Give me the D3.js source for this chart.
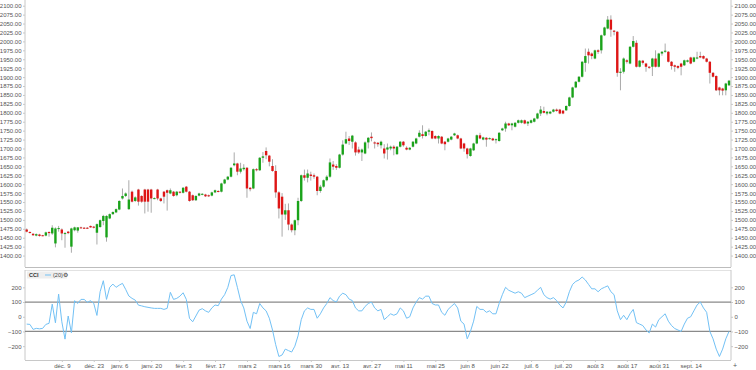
<!DOCTYPE html>
<html><head><meta charset="utf-8">
<script src="https://cdn.jsdelivr.net/npm/d3@7"></script>
<style>body{margin:0;background:#fff}svg{display:block}text{font-family:"Liberation Sans",Arial,sans-serif}</style>
</head><body><svg id="c" width="756" height="370"></svg>
<script>
// ---------- DATA ----------
const dates = ["2019-11-22","2019-11-25","2019-11-26","2019-11-27","2019-11-28","2019-11-29","2019-12-02","2019-12-03","2019-12-04","2019-12-05","2019-12-06","2019-12-09","2019-12-10","2019-12-11","2019-12-12","2019-12-13","2019-12-16","2019-12-17","2019-12-18","2019-12-19","2019-12-20","2019-12-23","2019-12-24","2019-12-26","2019-12-27","2019-12-30","2019-12-31","2020-01-02","2020-01-03","2020-01-06","2020-01-07","2020-01-08","2020-01-09","2020-01-10","2020-01-13","2020-01-14","2020-01-15","2020-01-16","2020-01-17","2020-01-20","2020-01-21","2020-01-22","2020-01-23","2020-01-24","2020-01-27","2020-01-28","2020-01-29","2020-01-30","2020-01-31","2020-02-03","2020-02-04","2020-02-05","2020-02-06","2020-02-07","2020-02-10","2020-02-11","2020-02-12","2020-02-13","2020-02-14","2020-02-17","2020-02-18","2020-02-19","2020-02-20","2020-02-21","2020-02-24","2020-02-25","2020-02-26","2020-02-27","2020-02-28","2020-03-02","2020-03-03","2020-03-04","2020-03-05","2020-03-06","2020-03-09","2020-03-10","2020-03-11","2020-03-12","2020-03-13","2020-03-16","2020-03-17","2020-03-18","2020-03-19","2020-03-20","2020-03-23","2020-03-24","2020-03-25","2020-03-26","2020-03-27","2020-03-30","2020-03-31","2020-04-01","2020-04-02","2020-04-03","2020-04-06","2020-04-07","2020-04-08","2020-04-09","2020-04-13","2020-04-14","2020-04-15","2020-04-16","2020-04-17","2020-04-20","2020-04-21","2020-04-22","2020-04-23","2020-04-24","2020-04-27","2020-04-28","2020-04-29","2020-04-30","2020-05-01","2020-05-04","2020-05-05","2020-05-06","2020-05-07","2020-05-08","2020-05-11","2020-05-12","2020-05-13","2020-05-14","2020-05-15","2020-05-18","2020-05-19","2020-05-20","2020-05-21","2020-05-22","2020-05-25","2020-05-26","2020-05-27","2020-05-28","2020-05-29","2020-06-01","2020-06-02","2020-06-03","2020-06-04","2020-06-05","2020-06-08","2020-06-09","2020-06-10","2020-06-11","2020-06-12","2020-06-15","2020-06-16","2020-06-17","2020-06-18","2020-06-19","2020-06-22","2020-06-23","2020-06-24","2020-06-25","2020-06-26","2020-06-29","2020-06-30","2020-07-01","2020-07-02","2020-07-03","2020-07-06","2020-07-07","2020-07-08","2020-07-09","2020-07-10","2020-07-13","2020-07-14","2020-07-15","2020-07-16","2020-07-17","2020-07-20","2020-07-21","2020-07-22","2020-07-23","2020-07-24","2020-07-27","2020-07-28","2020-07-29","2020-07-30","2020-07-31","2020-08-03","2020-08-04","2020-08-05","2020-08-06","2020-08-07","2020-08-10","2020-08-11","2020-08-12","2020-08-13","2020-08-14","2020-08-17","2020-08-18","2020-08-19","2020-08-20","2020-08-21","2020-08-24","2020-08-25","2020-08-26","2020-08-27","2020-08-28","2020-08-31","2020-09-01","2020-09-02","2020-09-03","2020-09-04","2020-09-07","2020-09-08","2020-09-09","2020-09-10","2020-09-11","2020-09-14","2020-09-15","2020-09-16","2020-09-17","2020-09-18","2020-09-21","2020-09-22","2020-09-23","2020-09-24","2020-09-25","2020-09-28","2020-09-29","2020-09-30"];
const open  = [1473,1466,1461,1456,1459,1457,1456,1466,1462,1434,1475,1473,1462,1467,1425,1471,1470,1479,1478,1478,1483,1481,1464,1480,1497,1451,1504,1516,1521,1529,1560,1567,1530,1579,1553,1585,1567,1585,1585,1585,1560,1585,1560,1579,1583,1574,1579,1569,1579,1576,1593,1579,1569,1555,1568,1571,1571,1569,1568,1577,1581,1579,1602,1613,1621,1653,1658,1635,1642,1646,1590,1588,1642,1639,1674,1693,1680,1651,1637,1577,1565,1515,1527,1487,1471,1499,1553,1625,1618,1627,1625,1621,1581,1593,1611,1621,1655,1651,1646,1683,1714,1728,1719,1717,1697,1689,1686,1717,1733,1717,1716,1709,1700,1697,1700,1705,1684,1705,1719,1702,1697,1705,1714,1733,1740,1735,1747,1749,1735,1728,1733,1719,1719,1725,1737,1737,1728,1714,1700,1679,1695,1714,1737,1725,1730,1728,1728,1725,1721,1751,1756,1770,1765,1761,1772,1772,1779,1770,1772,1775,1784,1798,1805,1798,1798,1803,1809,1809,1806,1807,1819,1843,1871,1887,1901,1940,1971,1966,1952,1975,1975,2017,2036,2061,2030,2027,1912,1915,1947,1938,1985,1996,1929,1946,1938,1929,1929,1952,1929,1966,1971,1971,1943,1933,1931,1938,1933,1943,1955,1943,1952,1959,1959,1952,1943,1912,1903,1871,1868,1863,1877];
const high  = [1476,1468,1463,1462,1461,1458,1467,1468,1485,1479,1483,1476,1466,1469,1478,1481,1480,1481,1480,1480,1484,1483,1490,1501,1514,1513,1518,1524,1532,1555,1588,1577,1611,1582,1566,1587,1569,1587,1587,1587,1563,1587,1562,1581,1585,1588,1581,1581,1580,1592,1595,1581,1571,1569,1576,1575,1573,1571,1579,1585,1583,1604,1615,1623,1648,1689,1660,1660,1656,1648,1592,1644,1645,1676,1690,1703,1682,1670,1653,1580,1575,1545,1546,1490,1501,1562,1627,1641,1641,1635,1630,1623,1598,1613,1625,1672,1665,1656,1685,1723,1747,1735,1738,1720,1705,1700,1720,1732,1745,1720,1718,1722,1712,1714,1708,1709,1707,1721,1721,1706,1704,1721,1730,1751,1765,1749,1756,1751,1737,1737,1735,1721,1730,1735,1744,1739,1730,1716,1702,1702,1716,1739,1744,1733,1732,1731,1730,1728,1746,1758,1775,1772,1772,1774,1781,1781,1781,1777,1781,1786,1800,1819,1817,1805,1805,1811,1812,1811,1808,1821,1845,1873,1889,1903,1945,1980,1980,1969,1977,1978,2019,2041,2071,2073,2032,2029,1925,1955,1950,1987,2015,2003,1948,1948,1940,1931,1954,1975,1968,1973,1994,1973,1945,1935,1933,1940,1949,1949,1957,1957,1971,1971,1961,1954,1945,1914,1905,1873,1870,1884,1892];
const low   = [1465,1462,1455,1454,1453,1454,1454,1453,1458,1423,1467,1443,1422,1460,1408,1468,1464,1476,1475,1475,1478,1476,1431,1478,1485,1439,1502,1514,1519,1527,1557,1564,1528,1549,1550,1540,1548,1518,1523,1520,1558,1555,1550,1546,1526,1572,1565,1566,1574,1574,1577,1551,1553,1553,1566,1569,1564,1564,1566,1575,1577,1577,1600,1611,1619,1650,1625,1630,1638,1562,1580,1586,1636,1637,1660,1670,1650,1635,1562,1504,1453,1500,1471,1465,1457,1485,1550,1610,1605,1610,1615,1569,1576,1590,1608,1618,1640,1640,1644,1680,1712,1710,1700,1680,1685,1665,1684,1700,1720,1700,1705,1700,1672,1669,1695,1681,1682,1703,1705,1695,1695,1703,1712,1731,1728,1733,1737,1726,1726,1714,1712,1695,1717,1723,1735,1726,1698,1691,1672,1677,1693,1712,1726,1723,1705,1725,1721,1714,1719,1749,1747,1763,1751,1759,1770,1770,1768,1763,1770,1773,1782,1791,1798,1793,1796,1801,1803,1796,1796,1805,1817,1841,1869,1885,1899,1915,1938,1950,1950,1965,1966,2015,2034,2013,2017,1901,1863,1910,1938,1936,1983,1927,1927,1935,1915,1923,1903,1927,1927,1960,1968,1941,1921,1915,1922,1905,1931,1941,1936,1941,1950,1953,1950,1941,1882,1899,1861,1849,1849,1849,1875];
const close = [1467,1464,1457,1460,1455,1455,1465,1463,1478,1476,1477,1462,1463,1463,1476,1479,1479,1477,1477,1476,1479,1478,1488,1499,1511,1511,1516,1522,1530,1553,1567,1574,1557,1551,1563,1551,1551,1551,1551,1560,1561,1560,1553,1565,1576,1583,1567,1579,1576,1590,1579,1553,1555,1567,1574,1573,1566,1566,1577,1583,1579,1602,1613,1621,1646,1658,1635,1644,1646,1588,1586,1642,1639,1674,1678,1681,1663,1637,1577,1532,1515,1527,1487,1471,1499,1553,1625,1618,1630,1623,1621,1581,1593,1611,1621,1661,1649,1646,1683,1711,1726,1721,1736,1689,1689,1697,1717,1730,1729,1714,1712,1719,1686,1703,1705,1700,1705,1719,1709,1697,1702,1719,1728,1744,1735,1747,1751,1728,1728,1735,1714,1712,1728,1733,1742,1728,1700,1700,1684,1700,1714,1737,1728,1731,1725,1729,1723,1726,1744,1756,1770,1765,1770,1772,1779,1779,1770,1775,1779,1784,1798,1809,1800,1803,1803,1809,1805,1798,1798,1819,1843,1871,1887,1901,1943,1959,1961,1959,1975,1971,2017,2039,2061,2033,2027,1912,1915,1952,1943,1985,2001,1929,1946,1940,1929,1926,1952,1929,1966,1971,1974,1943,1931,1929,1926,1929,1947,1947,1938,1955,1955,1955,1952,1943,1912,1901,1863,1863,1862,1882,1890];
const cci   = [-50,-52,-86,-79,-82,-79,-52,-45,86,-41,154,-34,-152,5,-109,109,91,118,118,98,109,91,9,170,245,118,200,222,200,215,227,186,141,125,113,79,74,68,64,60,57,57,57,50,57,166,118,125,140,163,118,-11,-34,5,45,55,40,30,60,80,75,120,150,200,280,285,200,110,60,-30,-80,30,20,90,60,40,-10,-90,-190,-270,-260,-220,-230,-240,-200,-130,-20,40,60,50,50,-10,20,60,90,130,110,100,140,160,150,120,110,60,40,40,70,90,100,60,40,50,-20,0,20,10,20,60,40,-10,0,60,100,130,120,140,140,90,80,80,30,10,50,70,90,60,-30,-50,-150,-100,-30,70,50,50,30,40,20,20,90,150,200,180,170,160,170,160,130,140,150,160,180,200,150,130,120,130,110,80,60,100,170,220,240,250,270,250,220,190,190,170,190,200,210,170,150,40,-20,10,-20,20,50,-40,-50,-60,-90,-110,-50,-70,-20,0,20,-30,-60,-80,-90,-100,-50,-10,0,40,80,100,60,30,-100,-150,-220,-270,-220,-150,-100];
const priceTicks = [1400,1425,1450,1475,1500,1525,1550,1575,1600,1625,1650,1675,1700,1725,1750,1775,1800,1825,1850,1875,1900,1925,1950,1975,2000,2025,2050,2075,2100];
const cciTicks = [-200,-100,0,100,200];
const cciLevels = [100,-100];
const xTickDates = ["2019-12-09","2019-12-23","2020-01-06","2020-01-20","2020-02-03","2020-02-17","2020-03-02","2020-03-16","2020-03-30","2020-04-13","2020-04-27","2020-05-11","2020-05-25","2020-06-08","2020-06-22","2020-07-06","2020-07-20","2020-08-03","2020-08-17","2020-08-31","2020-09-14"];
const xTickLabels = ["déc. 9","déc. 23","janv. 6","janv. 20","févr. 3","févr. 17","mars 2","mars 16","mars 30","avr. 13","avr. 27","mai 11","mai 25","juin 8","juin 22","juil. 6","juil. 20","août 3","août 17","août 31","sept. 14"];

// ---------- LAYOUT ----------
const L = 25, R = 731;
const svg = d3.select("#c");
const x = d3.scalePoint().domain(dates).range([26.7, 729]);
const yP = d3.scaleLinear().domain([1368, 2116]).range([267, 0]);
const yC = d3.scaleLinear().domain([-294, 311]).range([360, 271]);
const axisCol = "#c8c8c8", txtCol = "#555";
const fmt = d3.format(".2f");

const g = svg.append("g");
g.append("line").attr("x1",L).attr("x2",L).attr("y1",0).attr("y2",267).attr("stroke",axisCol);
g.append("line").attr("x1",R).attr("x2",R).attr("y1",0).attr("y2",267).attr("stroke",axisCol);
g.append("line").attr("x1",L).attr("x2",R).attr("y1",267.5).attr("y2",267.5).attr("stroke","#bdbdbd");
g.append("line").attr("x1",L).attr("x2",R).attr("y1",270.5).attr("y2",270.5).attr("stroke","#e2e2e2");
g.append("line").attr("x1",L).attr("x2",L).attr("y1",270).attr("y2",360).attr("stroke",axisCol);
g.append("line").attr("x1",R).attr("x2",R).attr("y1",270).attr("y2",360).attr("stroke",axisCol);
g.append("line").attr("x1",L).attr("x2",R).attr("y1",360.5).attr("y2",360.5).attr("stroke",axisCol);

function yAxis(scale, ticks, f, side, xpos){
  const ax = (side==="left"?d3.axisLeft(scale):d3.axisRight(scale)).tickValues(ticks).tickFormat(f).tickSize(2).tickPadding(1.5);
  const a = svg.append("g").attr("transform",`translate(${xpos},0)`).call(ax);
  a.select(".domain").remove();
  a.selectAll("line").attr("stroke",axisCol);
  a.selectAll("text").attr("fill",txtCol).style("font-size","6px");
}
yAxis(yP, priceTicks, fmt, "left", L);
yAxis(yP, priceTicks, fmt, "right", R);
yAxis(yC, cciTicks, d3.format("d"), "left", L);
yAxis(yC, cciTicks, d3.format("d"), "right", R);

const xa = svg.append("g").attr("transform","translate(0,360)")
  .call(d3.axisBottom(x).tickValues(xTickDates).tickFormat((d,i)=>xTickLabels[i]).tickSize(2).tickPadding(1.5));
xa.select(".domain").remove();
xa.selectAll("line").attr("stroke",axisCol);
xa.selectAll("text").attr("fill",txtCol).style("font-size","6px");
svg.append("text").attr("x",733).attr("y",368).attr("fill",txtCol).style("font-size","7px").text("+");

// candles
const idx = d3.range(dates.length);
const cg = svg.append("g");
cg.selectAll("line.w").data(idx).join("line")
  .attr("x1",i=>x(dates[i])).attr("x2",i=>x(dates[i]))
  .attr("y1",i=>yP(high[i])).attr("y2",i=>yP(low[i]))
  .attr("stroke","#aaaaaa").attr("stroke-width",1);
const bw = 2.4;
cg.selectAll("rect").data(idx).join("rect")
  .attr("x",i=>x(dates[i])-bw/2).attr("width",bw)
  .attr("y",i=>yP(Math.max(open[i],close[i])))
  .attr("height",i=>Math.max(1,Math.abs(yP(open[i])-yP(close[i]))))
  .attr("fill",i=>close[i]>=open[i]?"#1aa31a":"#de1616");

cciLevels.forEach(v=>{
  svg.append("line").attr("x1",L).attr("x2",R).attr("y1",yC(v)).attr("y2",yC(v)).attr("stroke","#8a8a8a").attr("stroke-width",1.2);
});
svg.append("path").datum(idx)
  .attr("d",d3.line().x(i=>x(dates[i])).y(i=>yC(cci[i])))
  .attr("fill","none").attr("stroke","#72c1f5").attr("stroke-width",1);

const lg = svg.append("g");
lg.append("rect").attr("x",27).attr("y",271.5).attr("width",40).attr("height",7).attr("fill","#eeeeee");
lg.append("text").attr("x",29).attr("y",277).attr("fill","#333").style("font-size","5.5px").style("font-weight","bold").text("CCI");
lg.append("line").attr("x1",45).attr("x2",51).attr("y1",275).attr("y2",275).attr("stroke","#72c1f5").attr("stroke-width",1);
lg.append("text").attr("x",53).attr("y",277).attr("fill","#444").style("font-size","5.5px").text("(20)");
lg.append("text").attr("x",63).attr("y",277.3).attr("fill","#444").style("font-size","5.5px").text("⚙");
</script></body></html>
